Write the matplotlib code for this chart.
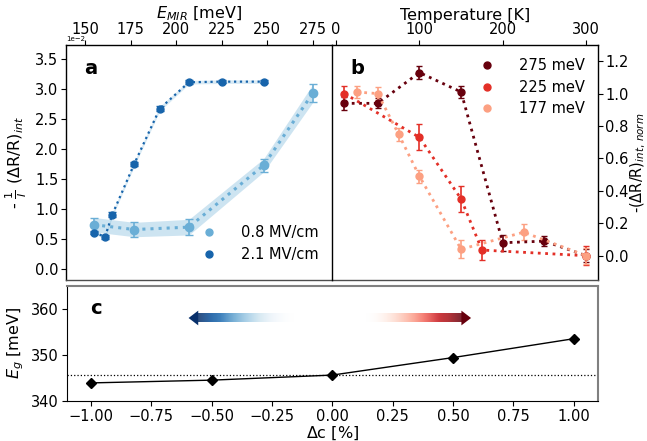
import matplotlib
matplotlib.use("Agg")
import matplotlib.pyplot as plt
import numpy as np
from matplotlib.lines import Line2D
from matplotlib.patches import Polygon

# panel a: signal vs E_MIR (values in units of 1e-2)
E_21 = [155, 161, 165, 177, 191, 207, 225, 248]
S_21 = [0.61, 0.54, 0.91, 1.75, 2.67, 3.11, 3.12, 3.12]
err_21 = [0.03, 0.03, 0.04, 0.04, 0.04, 0.03, 0.03, 0.03]
E_08 = [155, 177, 207, 248, 275]
S_08 = [0.74, 0.66, 0.70, 1.73, 2.93]
err_08 = [0.12, 0.12, 0.13, 0.11, 0.15]

# panel b: normalised signal vs temperature
T_275 = [10, 50, 100, 150, 200, 250, 300]
S_275 = [0.94, 0.94, 1.13, 1.01, 0.08, 0.09, 0.00]
err_275 = [0.04, 0.03, 0.04, 0.04, 0.05, 0.03, 0.04]
T_225 = [10, 100, 150, 175, 300]
S_225 = [1.00, 0.73, 0.35, 0.035, 0.00]
err_225 = [0.05, 0.08, 0.08, 0.06, 0.06]
T_177 = [25, 50, 75, 100, 150, 225, 300]
S_177 = [1.01, 1.00, 0.75, 0.49, 0.04, 0.145, 0.00]
err_177 = [0.04, 0.04, 0.04, 0.04, 0.055, 0.05, 0.05]

# panel c: band gap vs strain
dc = [-1.0, -0.5, 0.0, 0.5, 1.0]
Eg = [343.9, 344.5, 345.6, 349.4, 353.5]
Eg0 = 345.6

c_light = '#6aaed6'
c_dark = '#1764ab'
c275 = '#67000d'
c225 = '#e32f27'
c177 = '#fca082'

tfs = 10.5
lfs = 11.5

fig = plt.figure(figsize=(6.47, 4.41), dpi=100)
axa = fig.add_axes([0.102, 0.365, 0.411, 0.533])
axb = fig.add_axes([0.513, 0.365, 0.411, 0.533])
axc = fig.add_axes([0.103, 0.091, 0.821, 0.261])
axb.patch.set_visible(False)

# ---- panel a
s = 1e-2
for E, S, err, col, lw, ms, band in [(E_08, S_08, err_08, c_light, 2.2, 6, 0.33),
                                     (E_21, S_21, err_21, c_dark, 1.6, 5, 0.25)]:
    E = np.array(E); S = np.array(S) * s; err = np.array(err) * s
    axa.fill_between(E, S - err, S + err, color=c_light, alpha=band, lw=0)
    axa.errorbar(E, S, yerr=err, fmt='o', ls=':', lw=lw, color=col, ms=ms,
                 capsize=3, elinewidth=1.2)
axa.set_xlim(139.6, 285.4)
axa.set_ylim(-0.18e-2, 3.73e-2)
axa.set_xticks([150, 175, 200, 225, 250, 275])
axa.set_yticks(np.arange(0, 3.6, 0.5) * s)
axa.xaxis.tick_top()
axa.xaxis.set_label_position('top')
axa.set_xlabel(r'$E_{MIR}$ [meV]', fontsize=lfs, labelpad=3)
axa.set_ylabel(r'- $\frac{1}{I}$ ($\Delta$R/R)$_{int}$', fontsize=lfs)
axa.ticklabel_format(axis='y', style='sci', scilimits=(0, 0))
axa.yaxis.get_offset_text().set_fontsize(5)
axa.tick_params(labelsize=tfs, pad=2)
axa.text(0.07, 0.9, 'a', transform=axa.transAxes, fontsize=14, fontweight='bold', va='center')
hand = [Line2D([], [], marker='o', ls='none', color=c_light, ms=5),
        Line2D([], [], marker='o', ls='none', color=c_dark, ms=5)]
axa.legend(hand, ['0.8 MV/cm', '2.1 MV/cm'], loc='lower right', frameon=False,
           fontsize=10.5, handletextpad=1.2, bbox_to_anchor=(1.0, 0.02))

# ---- panel b
for T, S, err, col, lab in [(T_275, S_275, err_275, c275, '275 meV'),
                            (T_225, S_225, err_225, c225, '225 meV'),
                            (T_177, S_177, err_177, c177, '177 meV')]:
    axb.errorbar(T, S, yerr=err, fmt='o', ls=':', lw=2, color=col, ms=5,
                 capsize=2.5, elinewidth=1.2)
axb.set_xlim(-5, 314)
axb.set_ylim(-0.15, 1.3)
axb.set_xticks([0, 100, 200, 300])
axb.set_yticks(np.arange(0, 1.3, 0.2))
axb.xaxis.tick_top()
axb.xaxis.set_label_position('top')
axb.yaxis.tick_right()
axb.yaxis.set_label_position('right')
axb.set_xlabel('Temperature [K]', fontsize=lfs, labelpad=2)
axb.set_ylabel(r'-($\Delta$R/R)$_{int,\,norm}$', fontsize=10.5, labelpad=0)
axb.tick_params(labelsize=tfs, pad=2)
axb.text(0.07, 0.9, 'b', transform=axb.transAxes, fontsize=14, fontweight='bold', va='center')
hand = [Line2D([], [], marker='o', ls='none', color=c, ms=5) for c in (c275, c225, c177)]
axb.legend(hand, ['275 meV', '225 meV', '177 meV'], loc='upper right', frameon=False,
           fontsize=10.5, handletextpad=1.2, labelspacing=0.45)

for ax in (axa, axb):
    for sp in ax.spines.values():
        sp.set_linewidth(1.0)
    ax.spines['bottom'].set_color('0.3')
axa.spines['right'].set_visible(False)
axb.spines['left'].set_color('black')
axb.spines['left'].set_zorder(5)


# ---- panel c
def grad_arrow(ax, x_start, x_tip, y, cmap, h=1.9, head_len=0.04, head_h=3.2):
    n = 256
    t = np.linspace(0, 1, n)
    cols = cmap(0.05 + 0.95 * t)
    cols[:, 3] = np.clip(t * 1.1, 0, 0.85)
    x_base = x_tip - np.sign(x_tip - x_start) * head_len
    img = cols[np.newaxis, :, :]
    if x_base < x_start:
        img = img[:, ::-1, :]
    ax.imshow(img, extent=(min(x_start, x_base), max(x_start, x_base), y - h / 2, y + h / 2),
              aspect='auto', interpolation='bilinear', zorder=1)
    ax.add_patch(Polygon([(x_base, y - head_h / 2), (x_base, y + head_h / 2), (x_tip, y)],
                         closed=True, color=cmap(1.0), lw=0, zorder=1))


grad_arrow(axc, -0.16, -0.595, 358.0, plt.get_cmap('Blues'))
grad_arrow(axc, 0.14, 0.575, 358.0, plt.get_cmap('Reds'))

axc.axhline(Eg0, color='black', ls=':', lw=0.9)
axc.plot(dc, Eg, color='black', lw=1.0, marker='D', ms=5, zorder=3)
axc.set_xlim(-1.1, 1.1)
axc.set_ylim(340, 365)
axc.set_yticks([340, 350, 360])
axc.set_xticks(np.arange(-1, 1.01, 0.25))
axc.set_xlabel(r'$\Delta$c [%]', fontsize=lfs, labelpad=1)
axc.set_ylabel(r'$E_g$ [meV]', fontsize=lfs)
axc.tick_params(labelsize=tfs, pad=2)
axc.text(0.045, 0.8, 'c', transform=axc.transAxes, fontsize=14, fontweight='bold', va='center')
for k in ('top', 'right'):
    axc.spines[k].set_color('0.5')
    axc.spines[k].set_linewidth(1.5)

fig.savefig('out.png', dpi=100)
